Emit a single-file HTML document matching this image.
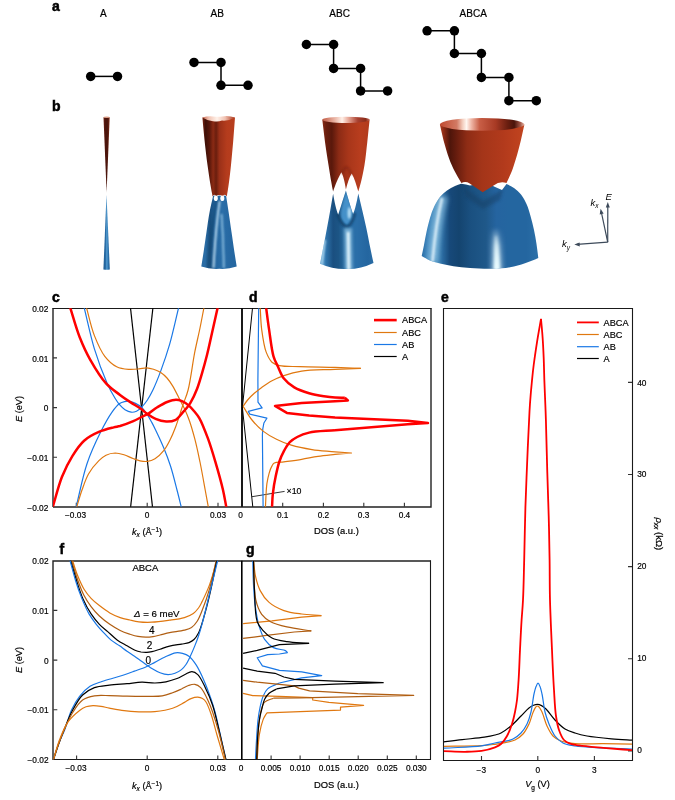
<!DOCTYPE html>
<html><head><meta charset="utf-8">
<style>
html,body{margin:0;padding:0;background:#fff;}
svg{display:block;}
text{font-family:"Liberation Sans",Arial,sans-serif;fill:#000;}
.pl{font-weight:bold;font-size:14px;stroke:#000;stroke-width:0.5px;}
.tk{font-size:8.3px;stroke:#000;stroke-width:0.18px;}
.lb{font-size:9.2px;stroke:#000;stroke-width:0.2px;}
.hd{font-size:10px;stroke:#000;stroke-width:0.2px;}
</style></head><body>
<svg width="675" height="800" viewBox="0 0 675 800">
<defs>
<filter id="bl1" filterUnits="userSpaceOnUse" x="0" y="0" width="675" height="800"><feGaussianBlur stdDeviation="0.8"/></filter>
<filter id="bl2" filterUnits="userSpaceOnUse" x="0" y="0" width="675" height="800"><feGaussianBlur stdDeviation="1.4"/></filter>
<filter id="bl3" filterUnits="userSpaceOnUse" x="0" y="0" width="675" height="800"><feGaussianBlur stdDeviation="2.5"/></filter>
<linearGradient id="rA" x1="0" x2="1" y1="0" y2="0"><stop offset="0" stop-color="#6a2014"/><stop offset="0.35" stop-color="#4a140c"/><stop offset="0.7" stop-color="#4e160c"/><stop offset="1" stop-color="#8a3420"/></linearGradient>
<linearGradient id="bA" x1="0" x2="1" y1="0" y2="0"><stop offset="0" stop-color="#1f5d92"/><stop offset="0.35" stop-color="#2a6ea8"/><stop offset="0.55" stop-color="#5aa2d4"/><stop offset="0.7" stop-color="#2f78b4"/><stop offset="1" stop-color="#1f5d92"/></linearGradient>
<linearGradient id="rAB" gradientUnits="userSpaceOnUse" x1="202.4" y1="0" x2="235" y2="0"><stop offset="0" stop-color="#7a2412"/><stop offset="0.1" stop-color="#3e1007"/><stop offset="0.22" stop-color="#5a180b"/><stop offset="0.33" stop-color="#8a2a14"/><stop offset="0.42" stop-color="#6a1e0e"/><stop offset="0.52" stop-color="#9a3018"/><stop offset="0.75" stop-color="#b53c1d"/><stop offset="1" stop-color="#b83e1e"/></linearGradient>
<linearGradient id="rABin" gradientUnits="userSpaceOnUse" x1="202.4" y1="0" x2="235" y2="0"><stop offset="0" stop-color="#c86850"/><stop offset="0.2" stop-color="#f2c4b4"/><stop offset="0.45" stop-color="#fff2ea"/><stop offset="0.7" stop-color="#f0c0b0"/><stop offset="0.9" stop-color="#c06048"/><stop offset="1" stop-color="#b04a30"/></linearGradient>
<linearGradient id="bAB" gradientUnits="userSpaceOnUse" x1="201.3" y1="0" x2="236.7" y2="0"><stop offset="0" stop-color="#2a6ca4"/><stop offset="0.12" stop-color="#2a6ca4"/><stop offset="0.25" stop-color="#1a5080"/><stop offset="0.4" stop-color="#2466a0"/><stop offset="0.6" stop-color="#2a6ea8"/><stop offset="0.8" stop-color="#2668a2"/><stop offset="1" stop-color="#2466a0"/></linearGradient>
<linearGradient id="rABC" gradientUnits="userSpaceOnUse" x1="322.3" y1="0" x2="369.6" y2="0"><stop offset="0" stop-color="#8a2c16"/><stop offset="0.08" stop-color="#6a1e0e"/><stop offset="0.2" stop-color="#5a180b"/><stop offset="0.35" stop-color="#8c2b15"/><stop offset="0.55" stop-color="#a8361a"/><stop offset="0.8" stop-color="#b83d1e"/><stop offset="1" stop-color="#b23b1d"/></linearGradient>
<linearGradient id="rABCin" gradientUnits="userSpaceOnUse" x1="322.3" y1="0" x2="369.6" y2="0"><stop offset="0" stop-color="#c05a44"/><stop offset="0.25" stop-color="#e8b0a0"/><stop offset="0.42" stop-color="#fff0e8"/><stop offset="0.55" stop-color="#e8a898"/><stop offset="0.75" stop-color="#a84030"/><stop offset="0.92" stop-color="#8a2c1a"/><stop offset="1" stop-color="#c87060"/></linearGradient>
<linearGradient id="bABC" gradientUnits="userSpaceOnUse" x1="319.6" y1="0" x2="373.4" y2="0"><stop offset="0" stop-color="#3a84bc"/><stop offset="0.06" stop-color="#5a9ccc"/><stop offset="0.12" stop-color="#2f74ac"/><stop offset="0.25" stop-color="#1a4f80"/><stop offset="0.35" stop-color="#1c5585"/><stop offset="0.5" stop-color="#2a70a8"/><stop offset="0.7" stop-color="#2a6ea8"/><stop offset="0.9" stop-color="#2466a0"/><stop offset="1" stop-color="#2a6ca4"/></linearGradient>
<linearGradient id="rABCA" gradientUnits="userSpaceOnUse" x1="439.9" y1="0" x2="524.4" y2="0"><stop offset="0" stop-color="#b03c20"/><stop offset="0.05" stop-color="#8a2a14"/><stop offset="0.12" stop-color="#4e150a"/><stop offset="0.2" stop-color="#681d0e"/><stop offset="0.32" stop-color="#8e2c15"/><stop offset="0.5" stop-color="#a43519"/><stop offset="0.75" stop-color="#b23a1c"/><stop offset="0.9" stop-color="#bc401e"/><stop offset="1" stop-color="#c04520"/></linearGradient>
<linearGradient id="rABCAin" gradientUnits="userSpaceOnUse" x1="439.9" y1="0" x2="524.4" y2="0"><stop offset="0" stop-color="#c04a30"/><stop offset="0.2" stop-color="#d27a64"/><stop offset="0.27" stop-color="#f4cfc0"/><stop offset="0.315" stop-color="#fff6f0"/><stop offset="0.37" stop-color="#f0b8a8"/><stop offset="0.47" stop-color="#c85e46"/><stop offset="0.66" stop-color="#a83a24"/><stop offset="0.8" stop-color="#6a1e10"/><stop offset="0.88" stop-color="#4a140a"/><stop offset="0.95" stop-color="#a05444"/><stop offset="1" stop-color="#e8b8a8"/></linearGradient>
<linearGradient id="bABCA" gradientUnits="userSpaceOnUse" x1="421.7" y1="0" x2="538.3" y2="0"><stop offset="0" stop-color="#2c70a8"/><stop offset="0.05" stop-color="#3a82ba"/><stop offset="0.13" stop-color="#4a90c0"/><stop offset="0.18" stop-color="#2a6aa0"/><stop offset="0.24" stop-color="#17497a"/><stop offset="0.32" stop-color="#14446f"/><stop offset="0.42" stop-color="#1a5080"/><stop offset="0.55" stop-color="#1f5889"/><stop offset="0.64" stop-color="#2564a0"/><stop offset="0.75" stop-color="#2466a0"/><stop offset="0.9" stop-color="#2466a0"/><stop offset="1" stop-color="#2c70a8"/></linearGradient>
<linearGradient id="hlv" gradientUnits="userSpaceOnUse" x1="0" y1="228" x2="0" y2="268"><stop offset="0" stop-color="#e8fbff" stop-opacity="0"/><stop offset="0.45" stop-color="#e8fbff" stop-opacity="0.6"/><stop offset="1" stop-color="#e8fbff" stop-opacity="1"/></linearGradient>
</defs>


<!-- panel labels -->
<text class="pl" x="52" y="11">a</text>
<text class="pl" x="52" y="111">b</text>
<text class="pl" x="52" y="302">c</text>
<text class="pl" x="249" y="302">d</text>
<text class="pl" x="441" y="302">e</text>
<text class="pl" x="59.6" y="554.2">f</text>
<text class="pl" x="246" y="553.8">g</text>

<!-- panel a -->
<g class="hd" text-anchor="middle">
<text x="103.3" y="17.3">A</text>
<text x="217.2" y="17.3">AB</text>
<text x="339.6" y="17.3">ABC</text>
<text x="473.2" y="17.3">ABCA</text>
</g>
<g stroke="#000" stroke-width="1.5" fill="none">
<path d="M90.7,76.4H117.5"/>
<path d="M194,62.4H221V85.3H248"/>
<path d="M306.4,44.5H333.6V68.4H360.6V90.9H387.6"/>
<path d="M427.1,30.8H454.4V53.5H481.4V77.4H508.9V100.7H536.3"/>
</g>
<g fill="#000">
<circle cx="90.7" cy="76.4" r="4.75"/><circle cx="117.5" cy="76.4" r="4.75"/>
<circle cx="194" cy="62.4" r="4.75"/><circle cx="221" cy="62.4" r="4.75"/><circle cx="221" cy="85.3" r="4.75"/><circle cx="248" cy="85.3" r="4.75"/>
<circle cx="306.4" cy="44.5" r="4.75"/><circle cx="333.6" cy="44.5" r="4.75"/><circle cx="333.6" cy="68.4" r="4.75"/><circle cx="360.6" cy="68.4" r="4.75"/><circle cx="360.6" cy="90.9" r="4.75"/><circle cx="387.6" cy="90.9" r="4.75"/>
<circle cx="427.1" cy="30.8" r="4.75"/><circle cx="454.4" cy="30.8" r="4.75"/><circle cx="454.4" cy="53.5" r="4.75"/><circle cx="481.4" cy="53.5" r="4.75"/><circle cx="481.4" cy="77.4" r="4.75"/><circle cx="508.9" cy="77.4" r="4.75"/><circle cx="508.9" cy="100.7" r="4.75"/><circle cx="536.3" cy="100.7" r="4.75"/>
</g>

<path d="M103.5,117.2 L109.7,117.2 L106.6,192.5 Z" fill="url(#rA)"/>
<ellipse cx="106.6" cy="117.2" rx="3.1" ry="0.8" fill="#e0a088"/>
<path d="M106.5,194.4 L109.8,269.4 Q106.6,270.2 103.4,269.4 Z" fill="url(#bA)"/>
<path d="M202.4,117.6 C203.1,125.1 203.7,132.3 204.5,140C205.4,148.1 206.4,157.1 207.5,165C208.5,172 209.5,179.3 210.5,185C211.2,189.3 211.9,192.6 212.6,196.4 Q214.3,193 216,196.2 Q219.3,194 222.6,196.2 Q224.8,193 226.8,196.4 C227.4,192.6 228,189.3 228.6,185C229.4,179.3 230.3,172 231,165C231.8,157.1 232.6,148.1 233.3,140C233.9,132.3 234.4,125.1 235,117.6 Z" fill="url(#rAB)"/>
<path d="M202.4,117.6 Q208,115.6 213,116.4 Q218,117.3 222,116.4 Q229,115.2 235,117.6 Q229,121.2 222,120.6 Q218,122.2 213,121.2 Q207,120.8 202.4,117.6 Z" fill="url(#rABin)"/>
<path d="M213,196.2 Q214.5,194.4 216.2,197 Q219.5,193.8 222.8,197 Q224.6,194.4 226.2,196.2 C227,201.5 227.8,206.4 228.6,212C229.5,218.3 230.5,225.3 231.5,232C232.5,238.7 233.5,245.9 234.4,252C235.2,257.2 235.9,261.7 236.7,266.5 Q228,269.5 219.5,268.8 Q210,269.5 201.3,266.5 C202.1,261.7 202.8,257.2 203.6,252C204.5,245.9 205.5,238.7 206.5,232C207.5,225.3 208.4,218.3 209.6,212C210.6,206.4 211.9,201.5 213,196.2 Z" fill="url(#bAB)"/>
<clipPath id="cpab"><path d="M213,196.2 Q214.5,194.4 216.2,197 Q219.5,193.8 222.8,197 Q224.6,194.4 226.2,196.2 C227,201.5 227.8,206.4 228.6,212C229.5,218.3 230.5,225.3 231.5,232C232.5,238.7 233.5,245.9 234.4,252C235.2,257.2 235.9,261.7 236.7,266.5 Q228,269.5 219.5,268.8 Q210,269.5 201.3,266.5 C202.1,261.7 202.8,257.2 203.6,252C204.5,245.9 205.5,238.7 206.5,232C207.5,225.3 208.4,218.3 209.6,212C210.6,206.4 211.9,201.5 213,196.2 Z"/></clipPath>
<g clip-path="url(#cpab)"><path d="M219.5,201 Q215.5,230 213.5,268" stroke="#d8f2ff" stroke-width="1.8" fill="none" filter="url(#bl1)" opacity="0.95"/>
<path d="M221.5,214 Q223.5,240 223.8,268" stroke="#bfe6fa" stroke-width="1.5" fill="none" filter="url(#bl1)" opacity="0.8"/>
<path d="M216.5,200 Q211,230 208,268" stroke="#17466f" stroke-width="2.5" fill="none" filter="url(#bl1)" opacity="0.6"/>
</g><ellipse cx="215.8" cy="198.3" rx="2" ry="2.8" fill="#fff"/>
<ellipse cx="222.3" cy="198.3" rx="2" ry="2.8" fill="#fff"/>
<path d="M322.3,119.8 C323.2,127.2 324,134.5 325,142C326,149.6 327.4,157.9 328.5,165C329.5,171.1 330.4,177.2 331.3,182C331.9,185.6 332.5,188.3 333.1,191.5 C335.2,185 338.5,177 341.4,172.2 C343.3,176 345,182.5 345.9,189.6 C347.3,183 349.5,177 351.7,173.4 C354.3,178 356.5,185 358.3,191.5 C359.2,188.3 360.1,185.6 361,182C362.2,177.2 363.5,171.1 364.5,165C365.7,157.9 366.4,149.6 367.3,142C368.1,134.5 368.8,127.2 369.6,119.8 Z" fill="url(#rABC)"/>
<path d="M341.8,174 Q346.5,160 351.5,175" stroke="#6a1c0c" stroke-width="2" fill="none" opacity="0.45" filter="url(#bl1)"/>
<ellipse cx="346" cy="119.8" rx="23.7" ry="3.1" fill="url(#rABCin)"/>
<path d="M333.1,193.8 C334.5,202 336.3,210 338.2,214.8 C340.5,208 343.5,198 345.9,190.6 C348,198 350.8,208 353.1,214 C355,210 356.8,202 358.3,193.6 C359.6,199.1 360.9,204.4 362.2,210C363.6,215.9 365,221.8 366.3,228C367.7,234.5 369,241.8 370.3,248C371.4,253.4 372.4,258 373.5,263 Q360,269.5 346.5,269 Q333,269.5 320.1,263.7 C321.2,257.8 322.4,251.9 323.5,246C324.7,240 325.9,234 327,228C328.1,222 329.3,215.8 330.3,210C331.3,204.5 332.2,199.2 333.1,193.8 Z" fill="url(#bABC)"/>
<clipPath id="cpabc"><path d="M333.1,193.8 C334.5,202 336.3,210 338.2,214.8 C340.5,208 343.5,198 345.9,190.6 C348,198 350.8,208 353.1,214 C355,210 356.8,202 358.3,193.6 C359.6,199.1 360.9,204.4 362.2,210C363.6,215.9 365,221.8 366.3,228C367.7,234.5 369,241.8 370.3,248C371.4,253.4 372.4,258 373.5,263 Q360,269.5 346.5,269 Q333,269.5 320.1,263.7 C321.2,257.8 322.4,251.9 323.5,246C324.7,240 325.9,234 327,228C328.1,222 329.3,215.8 330.3,210C331.3,204.5 332.2,199.2 333.1,193.8 Z"/></clipPath>
<g clip-path="url(#cpabc)"><path d="M345.9,192 C343.5,200 340.5,210 340.5,218 Q347,231 353,217 C352.5,210 349,200 345.9,192 Z" fill="#4c98d0" opacity="0.85" filter="url(#bl1)"/>
<ellipse cx="349.3" cy="213" rx="1.6" ry="6" fill="#d4f2ff" opacity="0.85" filter="url(#bl1)"/>
<path d="M337.5,214 Q347.5,240 355,213" stroke="#0f3a60" stroke-width="2.6" fill="none" opacity="0.75" filter="url(#bl1)"/>
<path d="M348,228 L348.8,270" stroke="#bfeaff" stroke-width="8" fill="none" opacity="0.5" filter="url(#bl2)"/>
<path d="M348.2,232 L348.8,270" stroke="#eafaff" stroke-width="2.6" fill="none" filter="url(#bl1)"/>
<path d="M325,240 L321.3,265" stroke="#cfeefc" stroke-width="2" fill="none" opacity="0.8" filter="url(#bl1)"/>
</g><path d="M461.2,183.7C459.1,184.5 457.2,185 455,186C452.5,187.2 449.5,188.7 447,190.5C444.5,192.3 442.1,194.4 440,197C437.7,199.8 435.7,203.5 434,207C432.3,210.5 431.2,214.1 430,218C428.7,222.4 427.5,227.4 426.5,232C425.5,236.4 424.8,240.9 424,245C423.2,248.8 422.5,252.3 421.7,256C424.5,257.5 427,259.2 430,260.5C433.3,261.9 437.2,262.9 441,263.8C445,264.8 449,265.6 453.5,266.3C458.6,267.1 464.1,267.6 470,268C476.8,268.5 485.1,269 492.1,268.8C498.4,268.6 504.3,268.2 510,267.2C515.3,266.3 520.2,264.8 525,263.2C529.6,261.7 533.9,259.7 538.3,257.9C537.7,253.3 537.2,248.6 536.5,244C535.8,239.3 535,234.6 534,230C533,225.3 531.8,220.5 530.5,216C529.3,211.8 528.2,207.7 526.5,204C525,200.6 523.2,197.2 521,194.5C519,192 516.5,189.8 514,188C511.6,186.3 509,185.3 506.5,184 L502,190 L494.6,186.8 L490,184.5 L476,184.5 L470,185.6 L466,184.6 Z" fill="url(#bABCA)"/>
<clipPath id="cpd"><path d="M461.2,183.7C459.1,184.5 457.2,185 455,186C452.5,187.2 449.5,188.7 447,190.5C444.5,192.3 442.1,194.4 440,197C437.7,199.8 435.7,203.5 434,207C432.3,210.5 431.2,214.1 430,218C428.7,222.4 427.5,227.4 426.5,232C425.5,236.4 424.8,240.9 424,245C423.2,248.8 422.5,252.3 421.7,256C424.5,257.5 427,259.2 430,260.5C433.3,261.9 437.2,262.9 441,263.8C445,264.8 449,265.6 453.5,266.3C458.6,267.1 464.1,267.6 470,268C476.8,268.5 485.1,269 492.1,268.8C498.4,268.6 504.3,268.2 510,267.2C515.3,266.3 520.2,264.8 525,263.2C529.6,261.7 533.9,259.7 538.3,257.9C537.7,253.3 537.2,248.6 536.5,244C535.8,239.3 535,234.6 534,230C533,225.3 531.8,220.5 530.5,216C529.3,211.8 528.2,207.7 526.5,204C525,200.6 523.2,197.2 521,194.5C519,192 516.5,189.8 514,188C511.6,186.3 509,185.3 506.5,184 L502,190 L494.6,186.8 L490,184.5 L476,184.5 L470,185.6 L466,184.6 Z"/></clipPath>
<g clip-path="url(#cpd)"><path d="M443,196 Q435.5,225 432,262" stroke="#8cc0e0" stroke-width="10" fill="none" filter="url(#bl3)" opacity="0.75"/>
<path d="M442,198 Q435.5,225 432.5,262" stroke="#e4f4fc" stroke-width="2.6" fill="none" filter="url(#bl1)" opacity="0.9"/>
<path d="M495,222 Q497,250 496.8,272" stroke="url(#hlv)" stroke-width="11" fill="none" filter="url(#bl3)" opacity="0.55"/>
<path d="M495.5,226 Q497,250 496.8,272" stroke="url(#hlv)" stroke-width="6" fill="none" filter="url(#bl2)"/>
<path d="M496,236 Q497,252 496.8,272" stroke="url(#hlv)" stroke-width="2.5" fill="none" filter="url(#bl1)"/>
<path d="M463,186 L483,201 L503,189 L500,200 L483,209 L466,197 Z" fill="#123c62" opacity="0.45" filter="url(#bl2)"/>
</g><path d="M439.9,124.4C441.1,129.7 442.1,134.8 443.5,140.2C445.1,146.1 447.1,153 449.1,158.5C450.8,163.2 452.6,167.1 454.7,171.2C456.7,175.3 459.2,179.1 461.4,183 Q465.6,181 469.7,183.5 L482.7,192.2 L493.6,185.6 Q499.8,180.6 506.5,183 C508.3,179.1 510.2,175.2 511.8,171.2C513.4,167.1 514.6,163.1 516,158.5C517.7,153 519.5,146.1 520.9,140.2C522.2,134.8 523.2,129.7 524.4,124.4 Z" fill="url(#rABCA)"/>
<ellipse cx="482.1" cy="124.4" rx="42.25" ry="6.4" fill="url(#rABCAin)"/>

<!-- axes icon -->
<g stroke="#3d4a5a" stroke-width="1.2" fill="#3d4a5a">
<path d="M607.7,242.2 L607.8,205" fill="none"/>
<path d="M607.7,242.2 L601.2,211.5" fill="none"/>
<path d="M607.7,242.2 L577,244.4" fill="none"/>
<path d="M607.8,202 L605.8,207.5 L609.8,207.5 Z" stroke="none"/>
<path d="M600.6,208.8 L599.7,214.5 L603.6,213.6 Z" stroke="none"/>
<path d="M574.3,244.6 L579.6,242.4 L579.8,246.4 Z" stroke="none"/>
</g>
<g font-style="italic" font-size="9.5px">
<text x="605.5" y="200">E</text>
<text x="590.5" y="205.5">k<tspan font-size="6.5px" dy="2.5">x</tspan></text>
<text x="562" y="247">k<tspan font-size="6.5px" dy="2.5">y</tspan></text>
</g>

<!-- panel c/d frame -->
<g stroke="#333" stroke-width="1.1" fill="none">
<path d="M53,507 V308.5 M53,507 H431 V308.5" stroke="#222" stroke-width="1.4"/><path d="M52.3,308.5 H431.7" stroke="#1a1a1a" stroke-width="1.1"/>
<!-- c ticks -->
<path d="M53,357.9h4M53,407.6h4M53,457.3h4M76.3,506.8v-4M147.2,506.8v-4M218,506.8v-4"/>
<!-- d ticks -->
<path d="M282.7,506.8v-4M323.4,506.8v-4M363.8,506.8v-4M404.4,506.8v-4"/>
</g>
<path d="M242,308.2V506.8" stroke="#000" stroke-width="1.8"/>
<g class="tk" text-anchor="end">
<text x="48.3" y="311.8">0.02</text>
<text x="48.3" y="361.5">0.01</text>
<text x="48.3" y="411.2">0</text>
<text x="48.3" y="460.9">−0.01</text>
<text x="48.3" y="510.6">−0.02</text>
</g>
<g class="tk" text-anchor="middle">
<text x="75.5" y="518.3">−0.03</text>
<text x="147" y="518.3">0</text>
<text x="218" y="518.3">0.03</text>
<text x="240.5" y="518.3">0</text>
<text x="282.7" y="518.3">0.1</text>
<text x="323.4" y="518.3">0.2</text>
<text x="363.6" y="518.3">0.3</text>
<text x="404.4" y="518.3">0.4</text>
</g>
<text class="lb" transform="translate(21.5,409) rotate(-90)" text-anchor="middle"><tspan font-style="italic">E</tspan> (eV)</text>
<text class="lb" x="132" y="535.2"><tspan font-style="italic">k</tspan><tspan font-style="italic" font-size="6.5px" dy="2.2">x</tspan><tspan dy="-2.2"> (Å</tspan><tspan font-size="6.5px" dy="-3">−1</tspan><tspan dy="3">)</tspan></text>
<text class="lb" x="336.4" y="534.4" text-anchor="middle" style="font-size:9.4px">DOS (a.u.)</text>
<!-- d legend -->
<path d="M374,320.1H396.7" stroke="#ff0000" stroke-width="2.6"/>
<path d="M374,332.5H396.7" stroke="#e07810" stroke-width="1.2"/>
<path d="M374,344.5H396.7" stroke="#1a78e6" stroke-width="1.2"/>
<path d="M374,356.5H396.7" stroke="#000" stroke-width="1.2"/>
<g class="tk" style="font-size:9.2px">
<text x="402" y="323.3">ABCA</text>
<text x="402" y="335.7">ABC</text>
<text x="402" y="347.7">AB</text>
<text x="402" y="359.7">A</text>
</g>
<path d="M252,496.7 L284.6,491.4" stroke="#000" stroke-width="0.8"/>
<text class="tk" style="font-size:8.8px" x="286.5" y="494">×10</text>

<svg x="53" y="308.2" width="378.2" height="198.6" viewBox="53 308.2 378.2 198.6" overflow="hidden">
<g fill="none" stroke-linejoin="round" stroke-linecap="butt">
<path d="M130.5,308 L152.5,507" stroke="#000000" stroke-width="1.2"/>
<path d="M152.9,308 L130.6,507" stroke="#000000" stroke-width="1.2"/>
<path d="M84,307C87.5,321 90.4,335.8 94.4,348.9C98.1,361 103,374 107,383C109.8,389.3 112.7,394.5 115.2,398.5C116.9,401.3 118.3,403.3 120,405.2C121.6,407 123.1,408.6 125,409.8C126.8,410.9 129.1,412 131.1,412.2C132.9,412.4 134.8,412 136.5,411.2C138.3,410.4 139.9,408.9 141.5,407.3C143.5,405.3 145.6,402.7 147.4,400C149.4,397 151,393.9 152.9,390C155.4,384.8 158.1,378 160.7,371.1C163.7,363 166.8,354.1 169.6,344.4C172.9,333 175.7,319.5 178.8,307" stroke="#1a78e6" stroke-width="1.2"/>
<path d="M75.9,508C79.6,493.2 82.5,477 87,463.7C90.9,452.2 95.8,441.8 100.4,432.6C104.2,424.9 108.5,417.1 112.2,411.9C114.8,408.3 117.2,405.3 119.6,403.6C121.3,402.4 122.8,402 124.5,401.6C126.2,401.2 128,401.1 129.8,401.4C131.7,401.7 133.6,402.5 135.5,403.4C137.5,404.4 139.7,405.6 141.5,407.3C143.5,409.1 145.3,411.7 147,414.2C148.8,416.8 150.4,419.9 151.9,422.6C153.3,425.1 154.2,427 155.6,430C157.8,434.6 161.2,441.8 163.7,447.8C166.2,453.8 168.4,459.5 170.5,466C172.9,473.4 175.1,482.6 177,490C178.7,496.4 180,502 181.5,508" stroke="#1a78e6" stroke-width="1.2"/>
<path d="M86.3,307C89,316.5 91,327 94.4,335.6C97.4,343.2 100.6,350.9 104.8,356.3C108.3,360.8 112.4,364.6 116.7,366.7C120.4,368.6 124.7,369 128.5,369.3C132.1,369.6 135.7,369.2 138.9,368.9C141.7,368.7 144.2,367.8 146.7,367.9C149.1,368 151.2,368.6 153.5,369.3C155.9,370.1 158.5,371.2 160.7,372.6C163,374.1 165.1,375.9 167,378C169.1,380.3 170.7,382.8 172.6,385.9C175,389.9 177.9,395.9 180,400C181.7,403.2 182.9,405.4 184.4,408.5C186.1,412.2 187.9,416.4 189.5,421C191.4,426.4 193.1,432.5 194.8,438.9C196.7,446.1 198.3,453.9 200,462C201.8,470.9 203.7,481.7 205.2,490C206.4,496.7 207.4,502 208.5,508" stroke="#e07810" stroke-width="1.2"/>
<path d="M76.4,508C78.3,502 79.9,495.8 82,490C84,484.5 85.7,478.9 88.5,474C91.3,469.1 95.6,464 98.9,460.7C101.3,458.3 103.3,456.5 106,455.2C108.7,453.9 112.2,453.1 115.2,453C118.2,453 121.1,453.9 124,454.8C127,455.7 130.2,457.5 133,458.5C135.5,459.4 137.6,460.3 140,460.8C142.4,461.3 144.9,461.7 147.4,461.4C149.9,461.1 152.5,460.3 155,458.8C158,457 161.2,453.8 163.7,450.7C166.2,447.5 168.1,443.8 170,440C172.1,435.9 173.7,432 175.6,427C178,420.6 180.7,411.4 183,404.8C184.8,399.4 186.5,396.2 188.1,390C190.6,380.3 192.6,363.1 194.8,351.9C196.6,343 198.4,335.7 200,328C201.5,320.8 202.7,314 204.1,307" stroke="#e07810" stroke-width="1.2"/>
<path d="M70,307C73.2,317 76,327.8 79.6,337C82.8,345.1 85.8,351.9 90,359.3C94.6,367.4 100.6,377.4 106.3,383.7C110.7,388.6 115.7,391.6 120,394.9C123.7,397.7 127.1,400 130.7,402.4C134.2,404.7 138.4,407 141.3,409.1C143.5,410.7 144.6,412.1 146.7,413.6C149.2,415.4 152.4,417.6 155.6,418.9C158.9,420.3 162.8,421.4 166.2,421.6C169.3,421.7 172.4,421.6 175.1,420.2C178.1,418.7 180.5,415 183,412.2C185.6,409.3 188.2,406.4 190.4,402.8C192.9,398.8 195.1,393.9 197,389C199,383.8 200.6,378.2 202.2,372.6C203.9,366.9 205.5,360.9 207,355C208.5,349 209.6,343.8 211.1,337C213.1,328.3 215.6,317 217.8,307" stroke="#ff0000" stroke-width="2.5"/>
<path d="M52.5,508C55.6,497.7 58.3,486.2 61.9,477C65,469.3 68.3,462.5 72.2,456.3C75.8,450.5 79.5,444.8 84.1,440.7C88.4,436.8 93.8,434.1 98.9,431.9C103.7,429.8 109.8,428.4 113.7,427.4C116.2,426.7 117.5,426.7 120,426C123.6,424.9 129.4,422.8 133.3,421.1C136.6,419.7 139.5,418 142.2,416.7C144.5,415.6 146.2,414.9 148.4,413.6C151.2,411.9 154.2,409.2 157.3,407.3C160.4,405.4 163.8,403.3 167.1,402C170.1,400.9 173.3,399.8 176,399.8C178.2,399.8 180,400.4 182,401.2C184.3,402.2 186.9,403.9 188.9,405.6C190.8,407.2 192.3,409 194,411C195.8,413.2 197.5,415 199.3,418.1C202.2,423.1 205.4,431.7 208.1,438.9C210.9,446.5 213.2,454.4 215.6,462.6C218.2,471.4 221.1,481.8 223,490C224.5,496.6 225.3,502 226.5,508" stroke="#ff0000" stroke-width="2.5"/>

<path d="M252.5,308 L242.4,407.6 L252.8,507" stroke="#000000" stroke-width="1.0"/>
<path d="M258.7,308 L257.9,380 L258,402.2 L262.1,407.9 L248.3,411.4 L249.8,414.1 L266.9,418.2 L263.9,423 L262.8,428.9 L262.4,435 L263.1,507" stroke="#1a78e6" stroke-width="1.2"/>
<path d="M260.2,307.5C260.7,314.9 260.7,322.2 261.7,329.6C262.7,337 263.9,346 266.1,351.9C267.7,356.1 269.5,359.9 272,362.2C274.1,364.1 276.2,364.8 279.4,365.6C284.5,366.8 292.2,366.3 300,366.6C310.1,367 324.2,367.1 335,367.4C344.3,367.7 352.2,368.1 360.8,368.4" stroke="#e07810" stroke-width="1.2"/>
<path d="M360.8,368.4 L335,369.3" stroke="#e07810" stroke-width="1.2"/>
<path d="M335,369.3C323.9,369.9 311,369.7 301.7,371.1C294.8,372.2 289.2,373.8 283.9,375.6C279.5,377.1 275.7,378.7 272,380.7C268.4,382.6 264.8,385.2 261.7,387.4C259,389.4 256.6,391.2 254.3,393.3C251.9,395.4 249.5,397.7 247.6,400C245.8,402.1 244.6,404.3 243.1,406.4" stroke="#e07810" stroke-width="1.2"/>
<path d="M243.1,406.4C246.1,410.9 248.6,415.9 252,420C255.3,424.1 259,427.9 263.1,431.1C267.2,434.3 271.8,437 276.5,439.3C281.2,441.7 285.9,443.6 291.3,445.2C297.5,447.1 304.9,448.5 312,449.6C319.4,450.8 327.3,451.1 335,451.9" stroke="#e07810" stroke-width="1.2"/>
<path d="M335,451.9 L351.5,453 L335,454.4" stroke="#e07810" stroke-width="1.2"/>
<path d="M335,454.4C329.3,455 323.6,455.5 318,456.3C312.5,457.1 307.3,458.4 301.7,459.3C295.9,460.3 288.9,461.2 283.9,461.9C280.2,462.4 276.3,461.9 274.3,463C273.1,463.7 272.7,464.6 272,465.9C270.9,467.7 269.9,470.6 269.1,473.3C268.2,476.4 267.5,479.5 266.9,483.7C266,490 265.9,499.6 265.4,507.5" stroke="#e07810" stroke-width="1.2"/>
<path d="M266.1,307.5C267.1,314.9 267.9,321.9 269.1,329.6C270.4,338.1 271.5,349.6 273.5,356.3C274.8,360.7 276.3,363.1 278,366.7C279.8,370.5 281.2,375.1 283.9,378.5C286.6,382 290.3,385 294.3,387.4C298.6,390 304.1,391.8 309.1,393.3C314,394.8 319.3,395.6 323.9,396.3C327.9,396.9 331.4,397.3 335,397.5C338.4,397.7 341.5,397.7 344.8,397.8" stroke="#ff0000" stroke-width="2.5"/>
<path d="M344.8,397.8 L347.9,400.5 L335,401.2 L301.7,403 L275,405.9 L286.9,412.9 L309.1,415.6 L335,417.4 L407.8,420.8 L428,423.1 L407.8,424.3 L335,430.2" stroke="#ff0000" stroke-width="2.5"/>
<path d="M335,430.2C326.4,431 316,431 309.1,432.6C304.3,433.7 300.6,435.2 297.2,437C294.3,438.5 292,440 289.8,442.2C287.5,444.6 285.6,447.9 283.9,451.1C282.1,454.4 280.7,457.7 279.4,461.5C277.9,465.9 276.8,471.1 275.7,476.3C274.5,481.9 273.4,488.6 272.8,494.1C272.3,498.9 272.3,503 272,507.5" stroke="#ff0000" stroke-width="2.5"/>

</g>
</svg>

<!-- panel e -->
<g stroke="#333" stroke-width="1.1" fill="none">
<path d="M443.5,308.5 H632.5 V760.5 H443.5 Z" stroke="#1a1a1a" stroke-width="1.1"/>
<path d="M632,750.9h-4M632,658.8h-4M632,566.6h-4M632,474.5h-4M632,382.4h-4"/>
<path d="M481.5,760.1v-4M537.8,760.1v-4M594.4,760.1v-4"/>
</g>
<g class="tk">
<text x="637.2" y="753.2">0</text>
<text x="637.2" y="661.3">10</text>
<text x="637.2" y="569.4">20</text>
<text x="637.2" y="477.4">30</text>
<text x="637.2" y="385.5">40</text>
</g>
<g class="tk" text-anchor="middle">
<text x="481.3" y="772.5">−3</text>
<text x="537.7" y="772.5">0</text>
<text x="594.4" y="772.5">3</text>
</g>
<text class="lb" transform="translate(655.8,533.8) rotate(90)" text-anchor="middle" style="font-size:9.5px"><tspan font-style="italic">ρ</tspan><tspan font-style="italic" font-size="6.5px" dy="2.2">xx</tspan><tspan dy="-2.2"> (kΩ)</tspan></text>
<text class="lb" x="525.2" y="787.4"><tspan font-style="italic">V</tspan><tspan font-size="6.5px" dy="2.2">g</tspan><tspan dy="-2.2"> (V)</tspan></text>
<path d="M577,322.4H598.8" stroke="#ff0000" stroke-width="1.8"/>
<path d="M577,334.5H598.8" stroke="#e07810" stroke-width="1.2"/>
<path d="M577,346.7H598.8" stroke="#1a78e6" stroke-width="1.2"/>
<path d="M577,358.5H598.8" stroke="#000" stroke-width="1.2"/>
<g class="tk" style="font-size:9.2px">
<text x="603.5" y="325.6">ABCA</text>
<text x="603.5" y="337.7">ABC</text>
<text x="603.5" y="349.9">AB</text>
<text x="603.5" y="361.7">A</text>
</g>
<svg x="443.7" y="309" width="188.4" height="451.1" viewBox="443.7 309 188.4 451.1" overflow="hidden">
<g fill="none" stroke-linejoin="round">
<path d="M443.7,741.9C449.9,741.1 455.7,740.3 462.2,739.6C469.3,738.8 478.4,738.1 484.4,737.2C488.6,736.5 492,735.8 495,735C497.3,734.4 498.8,734.1 501,733C504,731.5 507.8,728.7 511,726C514.5,723.1 517.9,719.1 521,716C523.8,713.2 526.6,709.9 529,708C530.6,706.7 532,705.9 533.5,705.3C534.8,704.8 536.1,704.4 537.4,704.4C538.8,704.4 540.2,704.9 541.5,705.6C543,706.4 544.3,707.4 546,709C548.6,711.5 551.8,716.6 555,720C558.1,723.3 561.5,726.8 565,729C568.2,731 571.5,731.9 575,733C578.8,734.2 582.3,735.1 587,736C593.7,737.2 603.7,738.1 611.5,738.8C618.6,739.4 625.2,739.7 632,740.1" stroke="#000000" stroke-width="1.2"/>
<path d="M443.7,746.3C456.3,746.1 472.1,746.1 481.5,745.6C487.1,745.3 490.8,744.8 495,744.3C498.6,743.8 501.9,743.3 505.2,742.6C508.5,741.9 512,741.4 515,740C518,738.6 520.7,736.5 523,734C525.5,731.3 527.3,727.5 529,724C530.7,720.4 531.7,715.5 533,712.5C533.9,710.4 534.7,708.5 535.5,707.4C536,706.7 536.4,706.1 537,706C537.5,705.9 538.2,706.3 538.8,706.8C539.9,707.7 540.9,709.8 542,712C543.7,715.5 545,721.8 547,726C548.8,729.7 550.5,733.4 553,736C555.3,738.3 557.8,739.8 561,741C564.9,742.5 569.5,743.1 575,743.6C582.8,744.3 593.8,743.6 603.3,743.7C612.8,743.8 622.4,744 632,744.2" stroke="#e07810" stroke-width="1.2"/>
<path d="M443.7,748.2C456.3,747.4 472.1,747.2 481.5,745.9C487.2,745.1 490.8,743.8 495,743C498.6,742.3 501.9,741.9 505,741.2C507.8,740.6 510.4,740.3 513,739C515.8,737.6 518.7,735.4 521,733C523.4,730.5 525.4,727.3 527,724C528.8,720.4 529.9,716.5 531,712C532.3,706.7 532.9,698.8 534,694C534.7,690.8 535.4,687.9 536.3,686C536.8,684.8 537.4,683.2 538,683.2C538.6,683.2 539.3,684.8 539.8,686C540.7,687.9 541.3,690.8 542,694C543.1,698.8 543.7,706.7 545,712C546.1,716.5 547.4,720.1 549,724C550.7,728.1 552.5,732.7 555,736C557.2,738.9 559.8,741.3 563,743C566.4,744.8 570.1,745.2 575,746C582.4,747.2 593.8,747.4 603.3,747.9C612.8,748.4 622.4,748.6 632,749" stroke="#1a78e6" stroke-width="1.2"/>
<path d="M443.7,751.2C450.9,751.4 458.5,751.9 465.2,751.8C471,751.7 476.4,751.7 481.5,750.9C486.3,750.1 491.5,748.7 495,747.3C497.5,746.3 499.2,745.6 501,744C503.2,742.1 505.3,739.1 507,736C509,732.5 510.7,728.1 512,724C513.3,720 514.2,716 515,712C515.8,708 516.4,704.5 517,700C517.7,694.2 518.1,687.3 518.6,680C519.2,671 519.5,660 520,650C520.5,640 521,629 521.6,620C522.1,612.7 522.6,607.8 523,600C523.6,589 523.8,574.2 524.2,560C524.6,543.7 524.9,524.3 525.4,507.6C525.9,492.3 526.5,478.4 527.1,463.8C527.7,449.2 528.5,431.1 529.1,420C529.4,413.2 529.6,409.4 530,403.5C530.5,396.7 531.2,388.3 531.9,381.5C532.5,375.6 532.9,371 533.7,365C534.6,357.9 535.9,349.3 537.1,341.6C538.3,334 539.7,326.5 541,318.9" stroke="#ff0000" stroke-width="1.8"/>
<path d="M541,318.9C541.5,325.1 542.2,331.1 542.6,337.5C543.1,344.2 543.4,351 543.7,358.1C544,365.6 544.1,373.6 544.4,381.5C544.7,389.6 545.1,399.2 545.4,406.2C545.6,411.5 545.7,413.9 545.9,420C546.3,431.9 546.8,455.8 547.3,472.5C547.7,487.8 548.3,501.7 548.7,516.3C549.1,530.9 549.4,545.8 549.6,560C549.8,573.6 549.6,585.9 550,600C550.4,615.7 551.3,634.3 552,650C552.6,664.1 553.2,678.1 554,690C554.6,699.6 554.9,708.7 556,716C556.8,721.4 557.5,725.8 559,730C560.3,733.7 561.9,737.7 564,740C565.7,741.8 567.7,742.7 570,743.6C572.6,744.6 575.2,744.8 578.9,745.4C585,746.3 594.8,747.1 603.3,747.9C612.5,748.7 622.4,749.4 632,750.2" stroke="#ff0000" stroke-width="1.8"/>

</g>
</svg>

<!-- panel f/g frame -->
<g stroke="#333" stroke-width="1.1" fill="none">
<path d="M53,759.5 V561 H430.5" stroke="#222" stroke-width="1.4"/><path d="M52.5,759.5 H430.5 V560.3" stroke="#1a1a1a" stroke-width="1.1"/>
<path d="M53.3,610.4h4M53.3,660.1h4M53.3,709.8h4M76.6,759.4v-4M147.2,759.4v-4M217.8,759.4v-4"/>
<path d="M271.1,759.4v-4M300.1,759.4v-4M329.2,759.4v-4M358.2,759.4v-4M387.3,759.4v-4M416.3,759.4v-4"/>
</g>
<path d="M241.8,560.8V759.4" stroke="#000" stroke-width="1.6"/>
<g class="tk" text-anchor="end">
<text x="48.5" y="564.4">0.02</text>
<text x="48.5" y="614">0.01</text>
<text x="48.5" y="663.7">0</text>
<text x="48.5" y="713.4">−0.01</text>
<text x="48.5" y="763">−0.02</text>
</g>
<g class="tk" text-anchor="middle">
<text x="76" y="771">−0.03</text>
<text x="147" y="771">0</text>
<text x="217.8" y="771">0.03</text>
<text x="241" y="771">0</text>
<text x="271.1" y="771">0.005</text>
<text x="300.1" y="771">0.010</text>
<text x="329.2" y="771">0.015</text>
<text x="358.2" y="771">0.020</text>
<text x="387.3" y="771">0.025</text>
<text x="416.3" y="771">0.030</text>
</g>
<text class="lb" transform="translate(21.5,660) rotate(-90)" text-anchor="middle"><tspan font-style="italic">E</tspan> (eV)</text>
<text class="lb" x="132" y="788.6"><tspan font-style="italic">k</tspan><tspan font-style="italic" font-size="6.5px" dy="2.2">x</tspan><tspan dy="-2.2"> (Å</tspan><tspan font-size="6.5px" dy="-3">−1</tspan><tspan dy="3">)</tspan></text>
<text class="lb" x="336.4" y="788.4" text-anchor="middle" style="font-size:9.4px">DOS (a.u.)</text>
<text class="tk" style="font-size:9.5px" x="132.4" y="570.7">ABCA</text>
<text class="tk" style="font-size:9.7px" x="134" y="616.9"><tspan font-style="italic">Δ</tspan> = 6 meV</text>
<text class="tk" style="font-size:10px" x="149" y="633.8">4</text>
<text class="tk" style="font-size:10px" x="146.7" y="648.9">2</text>
<text class="tk" style="font-size:10px" x="145.4" y="663.6">0</text>

<svg x="53.3" y="560.8" width="377.3" height="198.6" viewBox="53.3 560.8 377.3 198.6" overflow="hidden">
<g fill="none" stroke-linejoin="round">
<path d="M72.4,560C74.1,565.2 75.6,570.7 77.6,575.6C79.5,580.3 81.5,585 83.9,589C86.1,592.5 88.5,595.6 91.1,598.4C93.6,601.1 96.4,603.3 99.4,605.6C102.6,608.1 106.2,610.9 109.8,612.9C113.2,614.8 116.7,616.4 120.2,617.6C123.5,618.7 126.8,619.3 130,620C133,620.7 135.6,621.4 138.9,621.8C142.8,622.3 147.2,622.4 151.9,622.2C157.4,622 164,621 169.6,620.2C174.8,619.5 180.2,618.9 184.4,617.6C187.8,616.5 190.9,615.2 193.3,613.5C195.4,612 197,610 198.5,608C200,606 200.8,604.1 202.2,601.4C204.3,597.1 207.3,590.8 209.6,584.6C212.3,577.3 214.5,568.2 217,560" stroke="#e07810" stroke-width="1.2"/>
<path d="M71.4,560C73.5,566.6 75.4,573.6 77.6,579.7C79.6,585.2 81.5,590.6 83.9,595.3C86.1,599.5 88.5,603.2 91.1,606.7C93.6,610.1 96.3,613.1 99.4,616C102.6,619 106.2,621.8 109.8,624.3C113.2,626.6 116.7,628.8 120.2,630.5C123.4,632.1 126.9,633.2 130,634.2C132.8,635.1 135.3,635.9 138,636.4C140.6,636.9 143.3,637.2 145.8,637.2C148.2,637.2 150.6,637 153,636.6C155.4,636.2 157.5,635.6 160,635C163,634.3 166,633.3 169.6,632.6C174,631.7 180.4,631.3 184.4,630.2C187.2,629.4 189.4,628.9 191.5,627.5C193.6,626 195.4,624 197,621.5C199,618.5 200.4,614.7 202.2,610.3C204.6,604.3 207.4,596.4 209.6,588.6C212.1,579.8 214.1,569.5 216.3,560" stroke="#b05e12" stroke-width="1.2"/>
<path d="M70.4,560C72.5,566.9 74.5,574.1 76.6,580.7C78.6,586.9 80.3,592.8 82.8,598.4C85.2,603.8 88.1,609.4 91.1,613.9C93.7,617.8 96.5,621.3 99.4,624.3C102,627.1 104.8,629.1 107.7,631.6C110.7,634.3 113.8,637.5 117.1,639.9C120.3,642.2 123.9,644 127,645.8C129.8,647.4 132.5,649.1 135,650.2C137.1,651.1 139,651.6 141,652C142.9,652.3 144.8,652.5 146.7,652.4C148.5,652.3 150.1,652 152,651.6C154.4,651.1 157.2,650.1 160,649.2C163.1,648.2 166.2,646.9 169.6,646.1C173.3,645.2 178,644.7 181.5,644.1C184.3,643.6 186.8,643.5 189,642.6C190.9,641.8 192.5,640.9 194,639.5C195.7,637.9 197.1,635.7 198.5,633C200.5,629.1 202,623.5 203.7,617.7C205.9,610.2 208.3,600.7 210.4,591.5C212.7,581.5 214.8,570.5 217,560" stroke="#000000" stroke-width="1.2"/>
<path d="M69.9,560C71.8,566.9 73.5,574.1 75.6,580.7C77.5,586.9 79.5,592.7 81.8,598.4C84,603.8 86.4,609.3 89,613.9C91.3,617.8 93.8,621.1 96.3,624.3C98.7,627.3 101.1,630 103.6,632.6C106,635.1 108.2,637.7 110.8,639.9C113.5,642.1 116.8,643.8 119.6,645.8C122.2,647.6 124.5,649.5 127,651.2C129.5,652.9 132,654.5 134.5,656.2C137,657.9 139.2,659.7 141.9,661.6C145,663.8 148.7,666.6 151.9,668.6C154.7,670.3 157.2,671.8 160,672.8C162.6,673.8 165.5,674.6 168.1,674.6C170.5,674.6 172.8,674.1 175,673.3C177.3,672.5 179.6,671.1 181.5,669.6C183.3,668.2 184.7,666.4 186,664.5C187.4,662.5 188.3,660.4 189.6,657.8C191.2,654.4 193.3,649.7 194.8,645.9C196.2,642.5 197.3,639.5 198.5,636C199.8,632.1 200.8,628.7 202.2,623.6C204.3,615.8 207.1,603.8 209.6,593.5C212.3,582.6 215.1,571.2 217.8,560" stroke="#1a78e6" stroke-width="1.2"/>
<path d="M53.3,760C55.2,754.3 57,748.3 59,743C60.8,738.2 62.9,734.5 64.8,729.6C67.1,723.7 68.8,715.8 71.5,710C73.9,704.9 76.4,700.3 79.6,696.3C82.6,692.4 86.1,688.7 90,686.2C93.6,683.9 97.5,683 101.9,681.5C107.2,679.7 114,678.1 119.6,676.3C124.8,674.6 129.7,672.8 134.4,671.1C138.6,669.6 142.7,668.3 146.3,666.7C149.4,665.3 151.8,663.9 154.8,662.4C158.1,660.7 161.5,658.6 165,657C168.5,655.4 172.4,653.3 175.6,652.8C178.1,652.4 180.3,652.8 182.5,653.4C184.7,654 186.9,654.7 188.9,656.3C191.5,658.3 194,661.7 196.3,665.2C199,669.4 201.4,674.7 203.7,680C206.3,685.9 209.1,693.5 211.1,699.3C212.7,703.9 213.7,707.2 215,712C216.7,718.2 218.3,726 220,733.5C221.9,741.9 224,751.2 226,760" stroke="#1a78e6" stroke-width="1.2"/>
<path d="M53.3,760C55.2,754.3 57,748.5 59,743C60.9,737.7 62.9,732.7 65,727.5C67.2,722.1 69.3,716.3 72.2,711C75.2,705.5 78.5,699 82.6,695C86.1,691.6 90.1,689.2 94.4,687.6C98.9,685.9 104.1,685.8 109.3,685.2C114.9,684.5 121.4,684.2 127,683.7C132.2,683.2 137.1,682.3 141.9,682.2C146.4,682.1 150.8,683.1 155,683C158.8,682.9 162.4,682.5 166,681.8C169.7,681 173.7,679.8 177,678.5C179.9,677.3 182.4,675.7 185,674.5C187.4,673.4 189.7,671.5 191.9,671.6C194,671.7 196,672.9 197.8,674.6C200.5,677.2 202.9,682.7 205.2,687.4C207.9,692.8 210.5,698.8 212.6,705.2C215,712.3 216.5,719.7 218.5,728C220.9,737.8 223.5,749.3 226,760" stroke="#000000" stroke-width="1.2"/>
<path d="M53.3,760C55.2,754.3 56.9,748.5 59,743C61,737.6 63.1,732.2 65.5,727C67.8,721.9 70.1,716.6 73,712C75.8,707.6 78.8,702.7 82.6,700C86,697.6 90.2,696.6 94.4,695.8C99,695 104.1,695.5 109.3,695.6C114.9,695.7 120.7,696.1 127,696.2C134.2,696.4 143.5,696.5 150,696.4C154.7,696.3 158.4,696.4 162.2,695.8C165.7,695.2 168.8,694.1 172,693C175.2,691.9 178.6,690.3 181.5,689C184,687.8 186.2,686.3 188.5,685.5C190.6,684.8 192.8,684 194.8,684.3C196.9,684.6 198.9,685.8 200.7,687.6C203.4,690.3 206.1,696.4 208.1,700.7C209.9,704.5 211.1,707.7 212.6,712C214.5,717.5 216.6,724 218.5,731C220.9,739.6 223.2,750.3 225.5,760" stroke="#b05e12" stroke-width="1.2"/>
<path d="M53.3,760C55.2,753.8 56.6,747.7 58.9,741.5C61.4,735 64.1,727.6 67.8,722.2C71.1,717.4 76.1,713.1 79.6,710.4C81.9,708.6 83.7,707.6 86,706.8C88.2,706 90.6,705.7 93,705.6C95.6,705.5 98.3,705.9 101,706.3C103.8,706.7 106.1,707.5 109.3,708.1C113.5,708.9 119.2,710.1 124.1,710.7C129,711.3 133.9,711.6 138.9,711.8C144.1,712 149.4,712.1 154.8,711.6C160.6,711 167.4,710 172.6,708.3C177.1,706.8 181.1,704.2 184.4,702.4C186.9,701 188.7,699.5 191,698.6C193.2,697.8 195.7,697.1 197.8,697.2C199.5,697.3 201.1,697.7 202.5,698.5C203.9,699.3 204.9,700.3 206,702C207.8,704.7 209.5,709.6 211.1,714.3C213.2,720.3 214.9,727.8 217,735C219.3,742.9 221.9,751.7 224.4,760" stroke="#e07810" stroke-width="1.2"/>

<path d="M252.8,560.5C253,568.5 253.1,577 253.5,584.6C253.9,591.4 254.2,597.4 255,603.9C255.9,610.7 256.9,618.4 258.7,624.6C260.3,630 261.9,635.4 264.6,639.4C267,642.9 270,645.7 273.5,647.6C277,649.5 283.1,649.4 285.4,650.6C286.5,651.2 286.9,651.9 287.6,652.6" stroke="#1a78e6" stroke-width="1.2"/>
<path d="M287.6,652.6 L279.4,654 L267.6,654.6 L257.2,657.8 L262.4,665.9 L279.4,670.4 L301.7,671.9 L321.7,675.6 L301.7,677.8 L279.4,683" stroke="#1a78e6" stroke-width="1.2"/>
<path d="M279.4,683C275.5,685 270.4,686.3 267.6,688.9C265.3,691 264.3,693.5 263.1,696.3C261.8,699.4 261,703 260.2,706.7C259.3,710.8 258.6,715.1 258,720C257.3,726 256.9,733.4 256.5,740C256.1,746.4 255.8,752.7 255.5,759" stroke="#1a78e6" stroke-width="1.2"/>
<path d="M253.5,560.5C254.2,566.1 254.5,572 255.7,577.2C256.8,582 258,586.4 260.2,590.6C262.4,594.9 265.3,599.1 269.1,602.4C273.1,605.9 278.6,608.7 283.9,610.6C289.4,612.6 295.6,613.2 301.7,614C308.1,614.9 314.8,615.1 321.4,615.7" stroke="#e07810" stroke-width="1.2"/>
<path d="M321.4,615.7 L301.7,617.2 L272,620.9 L243.1,623.6" stroke="#e07810" stroke-width="1.2"/>
<path d="M243.1,693.3 L252.8,695.6 L279.4,696.3 L312.7,697.6 L312.7,700 L328.9,702.4 L363.6,705.3 L340.5,707.2 L340.5,710.1 L300,711.6 L266.9,712.8" stroke="#e07810" stroke-width="1.2"/>
<path d="M266.9,712.8C265.6,715.1 264.2,716.8 263.1,719.6C261.6,723.5 260.3,728.8 259.4,734.4C258.2,741.5 257.9,750.8 257.2,759" stroke="#e07810" stroke-width="1.2"/>
<path d="M253.5,560.5C254.2,573.5 253.5,589.6 255.7,599.4C257.1,605.7 258.9,610.4 261.7,614.3C264.1,617.6 267,619.7 270.6,621.7C275,624.1 280.9,625.5 286.9,626.9C294.2,628.6 303.2,629.6 311.3,630.9" stroke="#b05e12" stroke-width="1.2"/>
<path d="M311.3,630.9 L294.3,632 L264.6,635.7 L243.1,638.4" stroke="#b05e12" stroke-width="1.2"/>
<path d="M243.1,680.3 L257.2,682.2 L279.4,684.4 L294.3,685.9 L298.7,688.1 L309.6,690.8 L357.8,693.7 L413.7,695.3 L357.8,696.6 L300,697.8 L273.5,698.2" stroke="#b05e12" stroke-width="1.2"/>
<path d="M273.5,698.2C270.5,699.5 266.7,700 264.6,702.2C262.5,704.3 261.8,708.1 260.9,711.1C260.1,714 259.9,716.4 259.4,720C258.7,725.3 258,733.4 257.5,740C257,746.4 256.8,752.7 256.5,759" stroke="#b05e12" stroke-width="1.2"/>
<path d="M253.5,560.5C253.8,570.3 253.9,580 254.5,590C255.1,600.4 254.7,614.6 257.2,621.7C258.6,625.8 260.7,627.9 263.1,630.6C265.6,633.4 268.4,636.2 272,638C276.1,640.1 281.4,640.8 286.9,641.7C293.5,642.8 301.7,642.8 309.1,643.4" stroke="#000000" stroke-width="1.2"/>
<path d="M309.1,643.4 L279.4,644.6 L257.2,650.4 L243.1,653.3" stroke="#000000" stroke-width="1.2"/>
<path d="M243.1,668.1 L257.2,671.1 L275,673.3 L283.9,677 L294.3,679.3 L335,681.2 L383.2,682.7 L335,684.1 L294.3,685.9 L276.5,688.9" stroke="#000000" stroke-width="1.2"/>
<path d="M276.5,688.9C274,690.4 271.1,691.5 269.1,693.3C267.2,695 265.8,696.9 264.6,699.3C263.2,702.2 262.6,706.1 261.7,709.6C260.8,713 260,715.9 259.4,720C258.5,725.6 257.9,733.4 257.5,740C257.1,746.4 257,752.7 256.8,759" stroke="#000000" stroke-width="1.2"/>

</g>
</svg>
</svg>
</body></html>
